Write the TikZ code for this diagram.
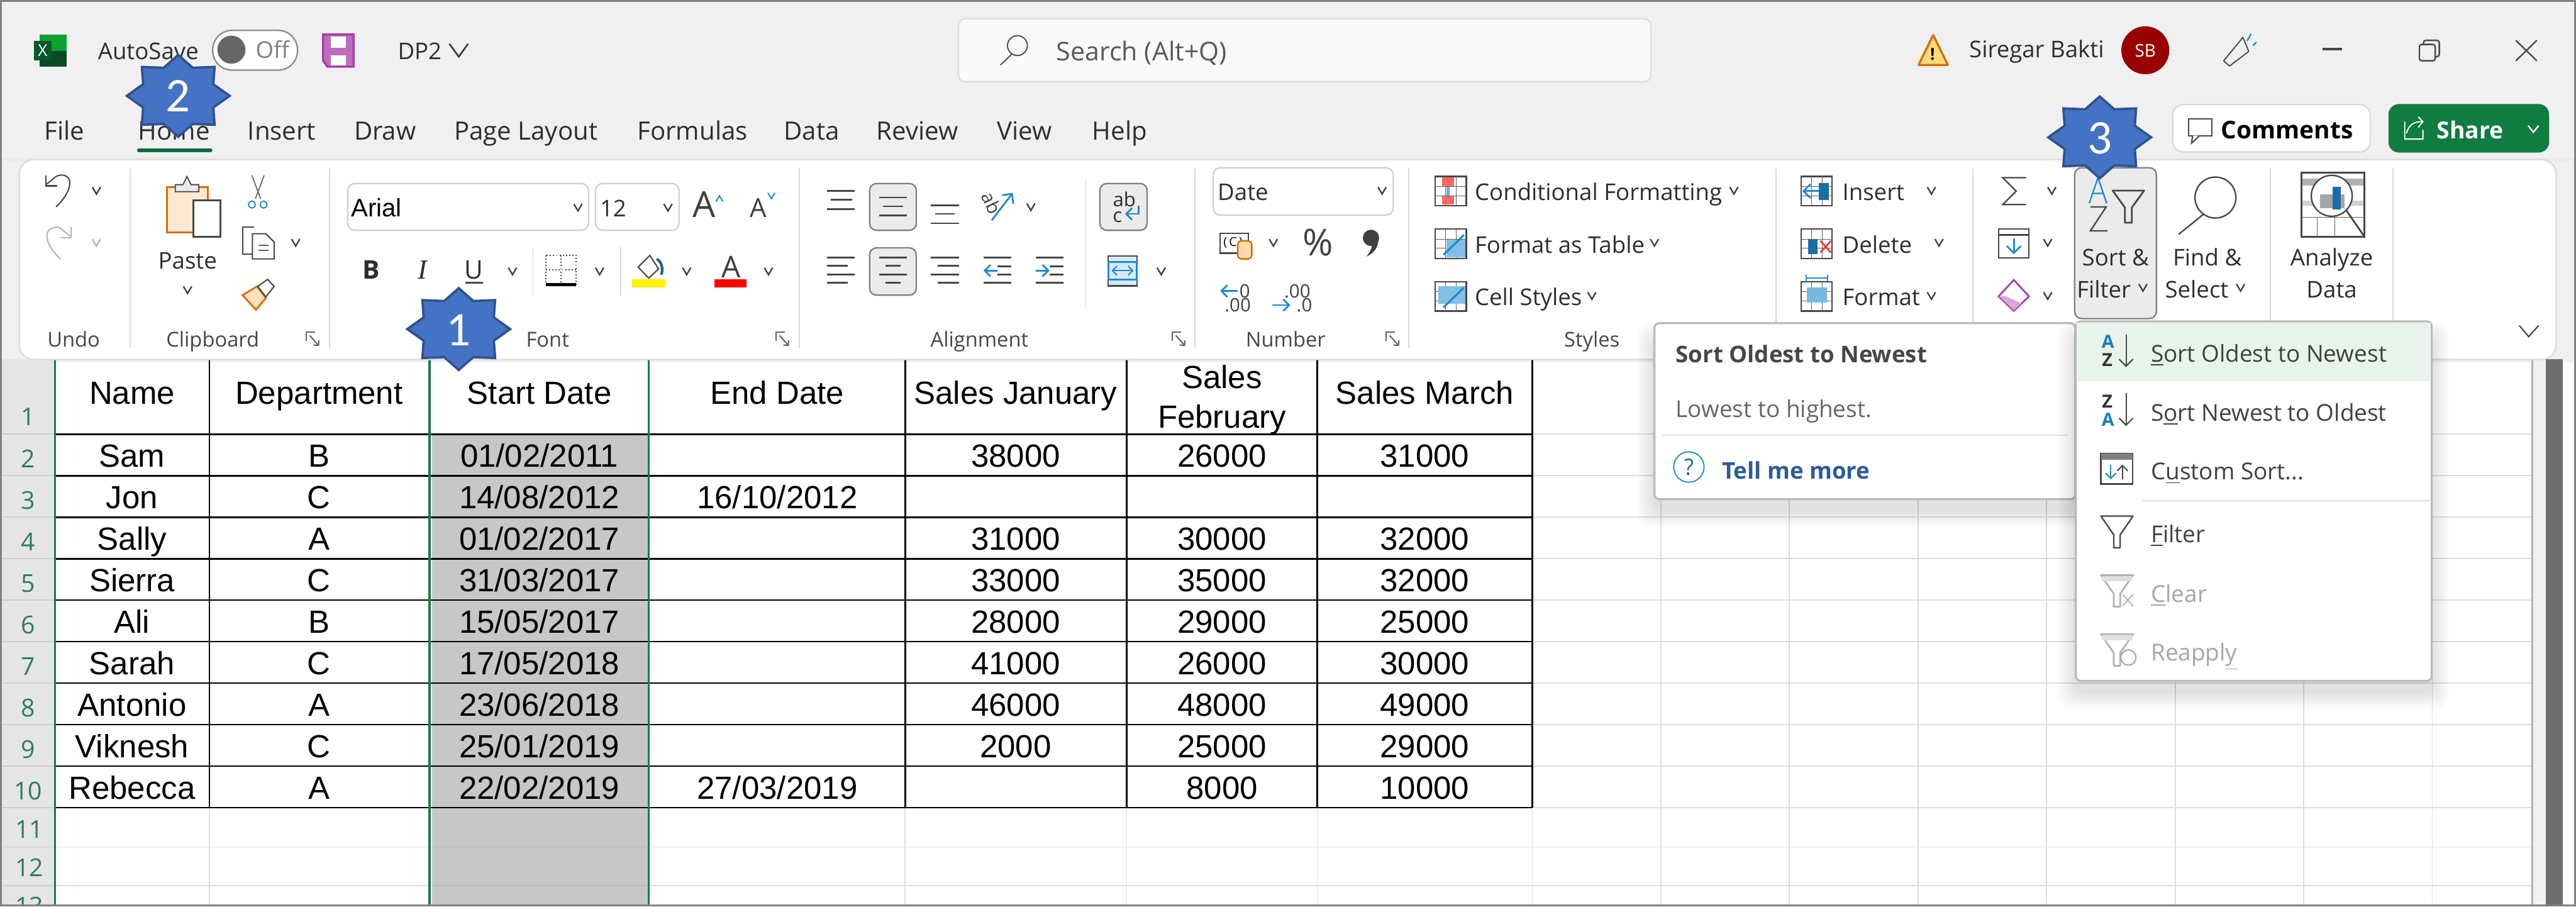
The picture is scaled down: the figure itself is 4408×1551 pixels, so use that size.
\documentclass[tikz,border=0pt]{standalone}
\usepackage{fontspec}
\setmainfont{Open Sans}
\newfontfamily\cellfont{Liberation Sans}
\newfontfamily\capfont{Liberation Serif}
\newfontfamily\badgefont{Carlito}
\usetikzlibrary{arrows.meta, calc}
\definecolor{xlgreen}{HTML}{107C41}
\definecolor{rowgreen}{HTML}{2F7D58}
\definecolor{selgreen}{HTML}{1B7A4B}
\definecolor{barbg}{HTML}{F0F0F0}
\definecolor{iconblue}{HTML}{1E8BCD}
\definecolor{starblue}{HTML}{4472C4}
\definecolor{stardark}{HTML}{2F528F}
\definecolor{iconpurple}{HTML}{A83CA8}
\definecolor{linkblue}{HTML}{2B5C9A}
\definecolor{hoverbg}{HTML}{E8F3EC}
\tikzset{
  uitext/.style ={anchor=base, inner sep=0pt, text=black!82, font=\fontsize{11.2}{14}\selectfont},
  uileft/.style ={uitext, anchor=base west},
  tabtext/.style={uitext, font=\fontsize{12.3}{15}\selectfont},
  grouptext/.style={uitext, text=black!72, font=\fontsize{10}{12}\selectfont},
  menutext/.style={uileft, text=black!75, font=\fontsize{11.3}{14}\selectfont},
  greytext/.style={menutext, text=black!35},
  cell/.style   ={anchor=base, inner sep=0pt, font=\cellfont\fontsize{15.6}{17.6}\selectfont, align=center},
  rownum/.style ={anchor=base, inner sep=0pt, text=rowgreen, font=\fontsize{12}{14}\selectfont},
  badgetext/.style={anchor=base, inner sep=0pt, text=white, font=\badgefont\fontsize{23.5}{26}\selectfont},
  badge/.style  ={fill=starblue, draw=stardark, line width=0.4mm, line join=miter},
  chev/.style   ={draw=black!75, line width=0.25mm},
  greychev/.style={chev, draw=black!30},
  ico/.style    ={draw=black!72, line width=0.3mm},
  icothin/.style={draw=black!62, line width=0.18mm},
  bluearrow/.style={draw=iconblue, line width=0.3mm},
  sep/.style    ={draw=black!15, line width=0.2mm},
  lightgrid/.style={draw=black!13, line width=0.2mm},
  tableline/.style={draw=black, line width=0.25mm},
  field/.style  ={fill=white, draw=black!18, line width=0.25mm, rounded corners=1.2mm},
  pressed/.style={fill=black!8, draw=black!50, line width=0.25mm, rounded corners=1.2mm},
  popup/.style  ={fill=white, draw=black!27, line width=0.35mm, rounded corners=0.8mm},
  grayicon/.style={draw=black!30, line width=0.3mm},
}
\newcommand{\softshadow}[4]{%
  \foreach \d in {3,6,...,30}
    \fill[black, opacity=0.012, rounded corners=2mm] (#1-\d,#2+30-\d) rectangle (#3+\d,#4+18+\d);}
\newcommand{\stepstar}[2]{%
  \draw[badge] (#1,#2) ++(0:88 and 70)
    \foreach \a in {22.5,67.5,...,337.5} { -- ($(#1,#2)+(\a:65 and 52)$) -- ($(#1,#2)+(\a+22.5:88 and 70)$) } -- cycle;}
\begin{document}
\begin{tikzpicture}[x=0.01cm, y=-0.01cm]
\useasboundingbox (0,0) rectangle (4408,1551);

% ---- window and sheet ----
\fill[white] (0,0) rectangle (4408,1551);
\fill[barbg] (0,0) rectangle (4408,620);
\fill[black!10] (0,615) rectangle (94,1551);
\fill[black!5] (4335,615) rectangle (4356,1549);
\fill[black!57] (4356,615) rectangle (4385,1549);
\fill[black!22] (739,743) rectangle (1108,1549);
\foreach \y in {743,814,885,956,1027,1098,1169,1240,1311,1382,1449,1515}
  \draw[draw=black!20, line width=0.2mm] (0,\y) -- (94,\y);
\foreach \y in {743,814,885,956,1027,1098,1169,1240,1311,1382}
  \draw[lightgrid] (2622,\y) -- (4333,\y);
\foreach \y in {1449,1515} {
  \draw[lightgrid] (94,\y) -- (739,\y);
  \draw[lightgrid] (1108,\y) -- (4333,\y);
  \draw[draw=black!27, line width=0.2mm] (739,\y) -- (1108,\y);}
\foreach \x in {2842,3062,3282,3502,3722,3942,4162}
  \draw[lightgrid] (\x,615) -- (\x,1549);
\foreach \x in {358,1549,1928,2254,2622}
  \draw[lightgrid] (\x,1382) -- (\x,1549);
\draw[draw=black!30, line width=0.25mm] (4333,615) -- (4333,1549);

% ---- table ----
\foreach \y in {743,814,885,956,1027,1098,1169,1240,1311,1382}
  \draw[tableline] (94,\y) -- (2622,\y);
\foreach \x in {358,1110,1549,1928,2254,2622}
  \draw[tableline] (\x,615) -- (\x,1382);
\foreach \x in {94,735,1110}
  \draw[draw=selgreen, line width=0.35mm] (\x,615) -- (\x,1549);

\foreach \t/\x in {Name/226,Department/546,Start Date/923,End Date/1330,Sales January/1738,Sales March/2438}
  \node[cell] (head\x) at (\x,691) {\t};
\node[cell, anchor=center] (headfeb) at (2091,684) {Sales\\[1.6pt]February};

\foreach \n/\d/\s/\e/\j/\f/\m [count=\r from 2] in {
  Sam/B/{01/02/2011}/{}/38000/26000/31000,
  Jon/C/{14/08/2012}/{16/10/2012}/{}/{}/{},
  Sally/A/{01/02/2017}/{}/31000/30000/32000,
  Sierra/C/{31/03/2017}/{}/33000/35000/32000,
  Ali/B/{15/05/2017}/{}/28000/29000/25000,
  Sarah/C/{17/05/2018}/{}/41000/26000/30000,
  Antonio/A/{23/06/2018}/{}/46000/48000/49000,
  Viknesh/C/{25/01/2019}/{}/2000/25000/29000,
  Rebecca/A/{22/02/2019}/{27/03/2019}/{}/8000/10000} {
  \pgfmathsetmacro{\ry}{799+71*(\r-2)}
  \node[cell] (name\r)  at (226,\ry)  {\n};
  \node[cell] (dept\r)  at (546,\ry)  {\d};
  \node[cell] (start\r) at (923,\ry)  {\s};
  \node[cell] (end\r)   at (1330,\ry) {\e};
  \node[cell] (jan\r)   at (1738,\ry) {\j};
  \node[cell] (feb\r)   at (2091,\ry) {\f};
  \node[cell] (mar\r)   at (2438,\ry) {\m};
  \node[rownum] (row\r) at (48,\ry+1) {\r};
}
\node[rownum] (row1) at (48,728) {1};
\node[rownum] (row11) at (50,1434) {11};
\node[rownum] (row12) at (50,1500) {12};
\begin{scope}
  \clip (0,1500) rectangle (94,1549);
  \node[rownum] (row13) at (50,1565) {13};
\end{scope}

% ---- title bar ----
\fill[black!8] (0,270) rectangle (4408,275);
\fill[xlgreen!70!green] (68,59) rectangle (114,114);
\fill[xlgreen!60!black] (68,87) rectangle (114,114);
\fill[xlgreen!70!black] (58,70) rectangle (88,103);
\node[inner sep=0pt, text=white, font=\fontsize{8}{9}\selectfont] (xlx) at (73,86) {X};
\node[uitext, anchor=base west] (autosave) at (167,102) {AutoSave};
\draw[fill=white, draw=black!45, line width=0.25mm, rounded corners=3.3mm] (364,52) rectangle (509,120);
\fill[black!60] (396,85) circle[radius=24];
\node[uitext, anchor=base west, text=black!50] (offtext) at (437,100) {Off};
\draw[fill=iconpurple!75, draw=iconpurple, line width=0.35mm] (553,59) -- (605,59) -- (605,114) -- (560,114) -- (553,104) -- cycle;
\fill[white] (566,62) rectangle (592,82);
\fill[white] (566,95) rectangle (592,112);
\node[uileft] (docname) at (680,102) {DP2};
\draw[chev, line width=0.3mm] (769,75) -- (785,97) -- (801,75);
\draw[fill=black!2, draw=black!12, line width=0.3mm, rounded corners=1.2mm] (1640,32) rectangle (2825,140);
\draw[ico, line width=0.2mm] (1741,78) circle[radius=17] (1731,93) -- (1712,111);
\node[uileft, text=black!65, font=\fontsize{12.6}{15}\selectfont] (search) at (1807,104) {Search (Alt+Q)};
\draw[fill=yellow!50!orange!50, draw=orange!85!black, line width=0.35mm, line join=round] (3308,60) -- (3333,111) -- (3283,111) -- cycle;
\node[inner sep=0pt, font=\bfseries\fontsize{8}{9}\selectfont] (warnmark) at (3307,93) {!};
\node[uileft] (username) at (3369,99) {Siregar Bakti};
\fill[red!50!black!80!red] (3671,86) circle[radius=41];
\node[inner sep=0pt, text=white, font=\fontsize{8.5}{10}\selectfont] (userinit) at (3671,87) {SB};
\draw[ico, line width=0.2mm, line join=round] (3805,104) -- (3838,64) -- (3848,88) -- (3815,113) -- cycle;
\draw[bluearrow, line width=0.25mm] (3845,70) -- (3852,58) (3855,78) -- (3861,72);
\draw[ico, line width=0.35mm] (3974,84) -- (4008,84);
\draw[ico, line width=0.25mm, rounded corners=0.4mm] (4140,76) rectangle (4167,104) (4147,76) -- (4147,69) -- (4174,69) -- (4174,97) -- (4167,97);
\draw[ico, line width=0.25mm] (4305,69) -- (4341,104) (4341,69) -- (4305,104);

% ---- tabs ----
\foreach \t/\x in {File/110,Home/298,Insert/482,Draw/659,Page Layout/900,Formulas/1185,Data/1389,Review/1570,View/1753,Help/1916}
  \node[tabtext] (tab\x) at (\x,239) {\t};
\draw[draw=xlgreen!85!black, line width=0.7mm, line cap=round] (238,257) -- (360,257);

\draw[field, rounded corners=1.8mm, draw=black!15] (3718,179) rectangle (4056,260);
\draw[ico, line width=0.22mm] (3745,203) rectangle (3785,232);
\draw[ico, fill=white, line width=0.22mm] (3752,232) -- (3750,245) -- (3764,232);
\node[uileft, text=black, font=\bfseries\fontsize{11.9}{14}\selectfont] (comments) at (3800,237) {Comments};
\fill[xlgreen, rounded corners=1.8mm] (4087,178) rectangle (4362,261);
\draw[draw=white, line width=0.2mm] (4115,208) -- (4115,238) -- (4146,238) -- (4146,222) (4118,228) .. controls (4122,212) and (4132,208) .. (4146,208) -- (4138,200) (4146,208) -- (4138,218);
\node[uileft, text=white, font=\bfseries\fontsize{11.4}{14}\selectfont] (share) at (4169,237) {Share};
\draw[draw=white, line width=0.25mm] (4326,215) -- (4335,226) -- (4344,215);

% ---- ribbon ----
\draw[fill=white, draw=black!14, line width=0.25mm, rounded corners=2.5mm] (33,273) rectangle (4374,615);
\foreach \x in {223,564,1368,2045,2411,3039,3376,3885,4095}
  \draw[sep] (\x,288) -- (\x,595);
\draw[sep] (1858,308) -- (1858,524);
\draw[sep] (912,423) -- (912,506);
\draw[sep] (1062,423) -- (1062,506);

\foreach \t/\x in {Undo/126,Clipboard/364,Font/937,Alignment/1676,Number/2200,Styles/2724}
  \node[grouptext] (group\x) at (\x,593) {\t};
\foreach \x in {536,1340,2018,2384} {
  \draw[icothin, line width=0.22mm] (\x-12,583) -- (\x-12,568) -- (\x+3,568);
  \draw[icothin, line width=0.22mm, -{Straight Barb[length=0.6mm]}] (\x-6,574) -- (\x+10,592);}

% undo / redo
\draw[ico, line width=0.22mm, rounded corners=0.5mm] (96,354) .. controls (126,325) and (126,298) .. (98,300) -- (80,315);
\draw[ico, line width=0.22mm] (79,300) -- (79,318) -- (98,318);
\draw[grayicon, line width=0.22mm] (103,443) .. controls (73,414) and (73,387) .. (101,389) -- (120,404);
\draw[grayicon, line width=0.22mm] (122,389) -- (122,407) -- (103,407);

% clipboard
\draw[draw=orange!85!black, fill=orange!18, line width=0.35mm] (286,320) rectangle (356,398);
\draw[ico, fill=black!8, line width=0.2mm] (300,328) -- (300,316) -- (313,316) -- (320,302) -- (327,316) -- (340,316) -- (340,328) -- cycle;
\draw[ico, fill=white, line width=0.35mm] (331,343) rectangle (377,405);
\node[uitext] (paste) at (321,460) {Paste};
\draw[icothin] (431,300) -- (446,340) (452,300) -- (437,340);
\draw[bluearrow, line width=0.2mm] (431,350) circle[radius=6] (451,350) circle[radius=6];
\draw[ico, line width=0.22mm] (435,389) -- (415,389) -- (415,435) -- (432,435);
\draw[ico, fill=white, line width=0.22mm] (432,400) -- (455,400) -- (469,414) -- (469,443) -- (432,443) -- cycle;
\draw[icothin] (442,420) -- (460,420) (442,428) -- (460,428);
\draw[draw=orange!85!black, fill=orange!25, line width=0.3mm] (415,505) -- (440,490) -- (455,510) -- (438,530) -- cycle;
\draw[ico, fill=white, line width=0.22mm] (441,490) -- (458,478) -- (469,490) -- (455,508) -- cycle;

% font
\draw[field] (595,314) rectangle (1007,394);
\node[cell, anchor=base west, font=\cellfont\fontsize{12.3}{14}\selectfont] (fontname) at (600,371) {Arial};
\draw[field] (1019,314) rectangle (1162,394);
\node[uileft] (fontsize) at (1026,371) {12};
\node[uitext, text=black!75, font=\fontsize{17.5}{19}\selectfont] (growa) at (1205,372) {A};
\node[uitext, text=black!75, font=\fontsize{12.8}{15}\selectfont] (shrinka) at (1298,372) {A};
\draw[bluearrow, line width=0.22mm] (1225,345) -- (1231,335) -- (1237,345);
\draw[bluearrow, line width=0.22mm] (1314,330) -- (1320,340) -- (1326,330);
\node[uitext, font=\bfseries\fontsize{12.5}{15}\selectfont] (boldb) at (635,477) {B};
\node[uitext, font=\capfont\itshape\fontsize{13.5}{15}\selectfont] (itali) at (723,477) {I};
\node[uitext, font=\fontsize{12.5}{15}\selectfont] (underu) at (811,477) {U};
\draw[ico, line width=0.35mm] (796,484) -- (826,484);
\draw[ico, line width=0.2mm, densely dotted] (934,437) rectangle (986,486) (960,437) -- (960,486) (934,462) -- (986,462);
\draw[draw=black, line width=0.45mm] (934,487) -- (986,487);
\draw[ico, line width=0.22mm] (1112,437) -- (1127,460) -- (1110,476) -- (1092,457) -- cycle;
\draw[draw=iconblue!70!black, line width=0.45mm] (1124,443) .. controls (1134,450) and (1134,460) .. (1132,470);
\fill[yellow] (1082,478) rectangle (1139,492);
\node[uitext, text=black!75, font=\fontsize{14.6}{16}\selectfont] (colora) at (1251,475) {A};
\fill[red] (1223,478) rectangle (1277,492);

% alignment
\draw[pressed] (1488,314) rectangle (1568,394);
\draw[pressed] (1488,424) rectangle (1568,505);
\draw[pressed] (1882,314) rectangle (1963,394);
\foreach \xa/\xb/\xc/\ya in {1415/1463/1458/327,1504/1552/1545/338,1593/1641/1634/351} {
  \draw[ico] (\xa,\ya) -- (\xb,\ya) (\xa,\ya+31) -- (\xb,\ya+31);
  \draw[ico] (\xa+7,\ya+15) -- (\xc,\ya+15);}
\foreach \xa/\xb/\sa/\sb in {1415/1463/1415/1451,1504/1552/1515/1541,1593/1641/1605/1641} {
  \draw[ico] (\xa,441) -- (\xb,441) (\xa,470) -- (\xb,470);
  \draw[ico] (\sa,455) -- (\sb,455) (\sa,484) -- (\sb,484);}
\foreach \x in {1683,1772} {
  \draw[ico] (\x,441) -- (\x+48,441) (\x,484) -- (\x+48,484);
  \draw[ico] (\x+24,456) -- (\x+48,456) (\x+24,470) -- (\x+48,470);}
\draw[bluearrow, -{Straight Barb[length=1mm]}] (1707,463) -- (1683,463);
\draw[bluearrow, -{Straight Barb[length=1mm]}] (1772,463) -- (1796,463);
\node[inner sep=0pt, rotate=-65, text=black!75, font=\fontsize{9}{10}\selectfont] (orient) at (1697,347) {ab};
\draw[bluearrow, -{Straight Barb[length=1.2mm]}] (1697,377) -- (1733,330);
\node[uitext, font=\fontsize{9.5}{11}\selectfont] (wrapab) at (1924,354) {ab};
\node[uitext, font=\fontsize{9.5}{11}\selectfont] (wrapc) at (1912,380) {c};
\draw[bluearrow, -{Straight Barb[length=1mm]}] (1948,352) -- (1948,366) -- (1925,366);
\draw[ico, fill=iconblue!18, line width=0.25mm] (1896,438) rectangle (1946,489);
\draw[bluearrow] (1897,448) rectangle (1945,478);
\draw[bluearrow, line width=0.22mm, {Straight Barb[length=0.8mm]}-{Straight Barb[length=0.8mm]}] (1902,463) -- (1940,463);

% number
\draw[field] (2076,287) rectangle (2384,368);
\node[uileft] (numformat) at (2083,343) {Date};
\draw[ico, line width=0.25mm] (2088,399) rectangle (2136,433);
\node[inner sep=0pt, font=\fontsize{6}{7}\selectfont] (currency) at (2110,415) {(\,C\,)};
\draw[draw=orange!85!black, fill=orange!30, line width=0.25mm, rounded corners=0.6mm] (2118,412) rectangle (2142,443);
\node[inner sep=0pt, text=black!75, font=\fontsize{18}{20}\selectfont] (percent) at (2255,415) {\%};
\fill[black!75] (2346,407) circle[radius=14];
\fill[black!75] (2357,403) .. controls (2362,420) and (2352,433) .. (2338,439) .. controls (2346,430) and (2350,420) .. (2346,412) -- cycle;
\node[inner sep=0pt, text=black!75, font=\fontsize{9}{10}\selectfont] (incdeca) at (2130,498) {0};
\node[inner sep=0pt, text=black!75, font=\fontsize{9}{10}\selectfont] (incdecb) at (2118,522) {.00};
\node[inner sep=0pt, text=black!75, font=\fontsize{9}{10}\selectfont] (decdeca) at (2220,498) {.00};
\node[inner sep=0pt, text=black!75, font=\fontsize{9}{10}\selectfont] (decdecb) at (2232,522) {.0};
\draw[bluearrow, -{Straight Barb[length=1mm]}] (2118,498) -- (2088,498);
\draw[bluearrow, -{Straight Barb[length=1mm]}] (2177,522) -- (2208,522);

% styles and cells
\foreach \x/\y in {2456/302,2456/392,2456/482,3082/302,3082/392,3082/482} {
  \draw[ico, line width=0.25mm] (\x,\y) rectangle (\x+53,\y+50);
  \draw[icothin, line width=0.12mm] (\x+18,\y) -- (\x+18,\y+50) (\x+36,\y) -- (\x+36,\y+50)
    (\x,\y+17) -- (\x+53,\y+17) (\x,\y+33) -- (\x+53,\y+33);}
\fill[red!60] (2468,304) rectangle (2488,319);
\fill[red!60] (2468,336) rectangle (2488,350);
\fill[iconblue!70] (2475,320) rectangle (2481,335);
\fill[iconblue!55] (2475,410) rectangle (2507,440);
\fill[iconblue!55] (2461,490) rectangle (2507,520);
\foreach \y in {392,482}
  \draw[bluearrow, line width=0.35mm] (2505,\y+10) -- (2470,\y+44);
\node[uileft] (condformat) at (2523,343) {Conditional Formatting};
\node[uileft] (astable) at (2523,433) {Format as Table};
\node[uileft] (cellstyles) at (2523,522) {Cell Styles};
\fill[iconblue!80!black] (3112,313) rectangle (3130,342);
\draw[bluearrow, -{Straight Barb[length=1.2mm]}] (3112,327) -- (3084,327);
\fill[iconblue!80!black] (3094,410) rectangle (3110,435);
\draw[draw=red!80, line width=0.3mm] (3115,412) -- (3133,432) (3133,412) -- (3115,432);
\fill[iconblue!60] (3092,492) rectangle (3126,518);
\draw[bluearrow, line width=0.22mm, {Bar[width=1.2mm]}-{Bar[width=1.2mm]}] (3090,476) -- (3128,476);
\node[uileft] (cellinsert) at (3152,343) {Insert};
\node[uileft] (celldelete) at (3152,433) {Delete};
\node[uileft] (cellformat) at (3152,522) {Format};

% editing
\draw[ico, line width=0.25mm] (3467,304) -- (3427,304) -- (3450,327) -- (3427,350) -- (3467,350);
\draw[ico, line width=0.25mm] (3420,392) rectangle (3472,441) (3420,402) -- (3472,402);
\draw[bluearrow, -{Straight Barb[length=1.2mm]}] (3446,408) -- (3446,435);
\draw[draw=iconpurple, fill=white, line width=0.3mm] (3446,479) -- (3472,507) -- (3446,532) -- (3420,507) -- cycle;
\fill[iconpurple!45] (3433,507) -- (3459,519) -- (3446,531) -- (3421,507) -- cycle;
\draw[pressed] (3550,287) rectangle (3690,545);
\draw[bluearrow, line width=0.25mm] (3575,348) -- (3590,304) -- (3605,348) (3581,331) -- (3599,331);
\draw[ico, line width=0.25mm] (3577,354) -- (3604,354) -- (3577,395) -- (3606,395);
\draw[ico, line width=0.3mm, line join=round] (3615,326) -- (3669,326) -- (3648,355) -- (3648,381) -- (3636,381) -- (3636,355) -- cycle;
\node[uitext] (sortand) at (3620,455) {Sort \&};
\node[uitext] (filtertext) at (3600,510) {Filter};
\draw[chev] (3660,486) -- (3667,498) -- (3674,486);
\draw[ico, line width=0.25mm] (3791,338) circle[radius=35] (3770,367) -- (3728,401);
\node[uitext] (findand) at (3777,455) {Find \&};
\node[uitext] (selecttext) at (3759,510) {Select};
\draw[ico, line width=0.3mm] (3938,295) rectangle (4046,405);
\fill[black!30] (3940,306) rectangle (4044,318);
\fill[black!18] (3940,343) rectangle (4044,352);
\draw[icothin, line width=0.12mm] (3938,372) -- (4046,372) (3965,372) -- (3965,405) (3995,372) -- (3995,405);
\draw[ico, fill=white, line width=0.25mm] (3990,335) circle[radius=35];
\draw[ico, line width=0.3mm] (4015,360) -- (4046,405);
\fill[black!35] (3970,332) rectangle (4012,356);
\fill[iconblue!80!black] (3992,320) rectangle (4006,358);
\node[uitext] (analyzetext) at (3990,455) {Analyze};
\node[uitext] (datatext) at (3990,510) {Data};
\draw[chev, line width=0.22mm] (4311,557) -- (4327,576) -- (4344,557);

% chevrons of the buttons
\foreach \x/\y in {165/327,506/416,321/497,989/356,1143/356,877/465,1026/465,1175/465,1315/465,
                   1764/355,1987/465,2365/327,2179/416,2967/327,2831/416,2724/507,
                   3305/327,3318/416,3305/507,3511/327,3504/416,3504/507,3834/493}
  \draw[chev] (\x-7,\y-7) -- (\x,\y+5) -- (\x+7,\y-7);
\draw[greychev] (158,409) -- (165,421) -- (172,409);

% ---- tooltip ----
\softshadow{2831}{553}{3551}{854}
\draw[popup] (2831,553) rectangle (3551,854);
\node[uileft, text=black!72, font=\bfseries\fontsize{11.2}{14}\selectfont] (tiptitle) at (2867,620) {Sort Oldest to Newest};
\node[uileft, text=black!60, font=\fontsize{11.3}{14}\selectfont] (tipbody) at (2867,714) {Lowest to highest.};
\draw[draw=black!12, line width=0.2mm] (2844,745) -- (3538,745);
\draw[bluearrow, line width=0.2mm] (2890,799) circle[radius=26];
\node[inner sep=0pt, text=iconblue!80!black, font=\fontsize{11}{13}\selectfont] (tiphelp) at (2890,799) {?};
\node[uileft, text=linkblue, font=\bfseries\fontsize{11.2}{14}\selectfont] (tiplink) at (2946,820) {Tell me more};

% ---- drop-down menu ----
\softshadow{3552}{550}{4161}{1165}
\draw[popup] (3552,550) rectangle (4161,1165);
\fill[hoverbg] (3554,552) rectangle (4159,652);
\node[menutext] (menuasc) at (3680,619) {\underline{S}ort Oldest to Newest};
\node[menutext] (menudesc) at (3680,720) {S\underline{o}rt Newest to Oldest};
\node[menutext] (menucustom) at (3680,821) {C\underline{u}stom Sort...};
\draw[draw=black!12, line width=0.2mm] (3665,857) -- (4160,857);
\node[menutext] (menufilter) at (3680,928) {\underline{F}ilter};
\node[greytext] (menuclear) at (3680,1030) {\underline{C}lear};
\node[greytext] (menureapply) at (3680,1130) {Reappl\underline{y}};

\node[inner sep=0pt, text=iconblue!90!black, font=\bfseries\fontsize{8.8}{10}\selectfont] (ascA) at (3607,585) {A};
\node[inner sep=0pt, text=black!80, font=\bfseries\fontsize{8.8}{10}\selectfont] (ascZ) at (3606,616) {Z};
\node[inner sep=0pt, text=black!80, font=\bfseries\fontsize{8.8}{10}\selectfont] (descZ) at (3606,687) {Z};
\node[inner sep=0pt, text=iconblue!90!black, font=\bfseries\fontsize{8.8}{10}\selectfont] (descA) at (3607,718) {A};
\draw[ico, line width=0.22mm, -{Straight Barb[length=1.2mm]}] (3638,572) -- (3638,628);
\draw[ico, line width=0.22mm, -{Straight Barb[length=1.2mm]}] (3638,673) -- (3638,729);
\draw[ico, line width=0.25mm] (3595,776) rectangle (3649,828);
\fill[black!50] (3595,776) rectangle (3649,787);
\draw[bluearrow, line width=0.22mm, -{Straight Barb[length=0.9mm]}] (3612,795) -- (3612,820);
\draw[ico, line width=0.22mm, -{Straight Barb[length=0.9mm]}] (3632,820) -- (3632,795);
\draw[ico, line width=0.25mm, line join=round] (3595,883) -- (3650,883) -- (3628,915) -- (3628,937) -- (3617,937) -- (3617,915) -- cycle;
\foreach \y in {984,1085} {
  \draw[grayicon, line join=round] (3595,\y) -- (3650,\y) -- (3628,\y+32) -- (3628,\y+54) -- (3617,\y+54) -- (3617,\y+32) -- cycle;
  \fill[black!12] (3597,\y+2) rectangle (3648,\y+10);}
\draw[draw=white, line width=0.6mm] (3632,1015) -- (3650,1038);
\draw[grayicon, line width=0.2mm] (3632,1017) -- (3650,1037) (3650,1017) -- (3632,1037);
\draw[draw=black!35, line width=0.22mm, fill=white] (3642,1125) circle[radius=13];

% ---- numbered steps ----
\stepstar{785}{563}
\node[badgetext] (step1) at (785,591) {1};
\stepstar{305}{164}
\node[badgetext] (step2) at (305,191) {2};
\stepstar{3593}{235}
\node[badgetext] (step3) at (3593,263) {3};

% ---- window frame ----
\draw[draw=black!50, line width=0.35mm] (1,2) -- (4406,2) -- (4406,1549) -- (1,1549) -- cycle;
\end{tikzpicture}
\end{document}
